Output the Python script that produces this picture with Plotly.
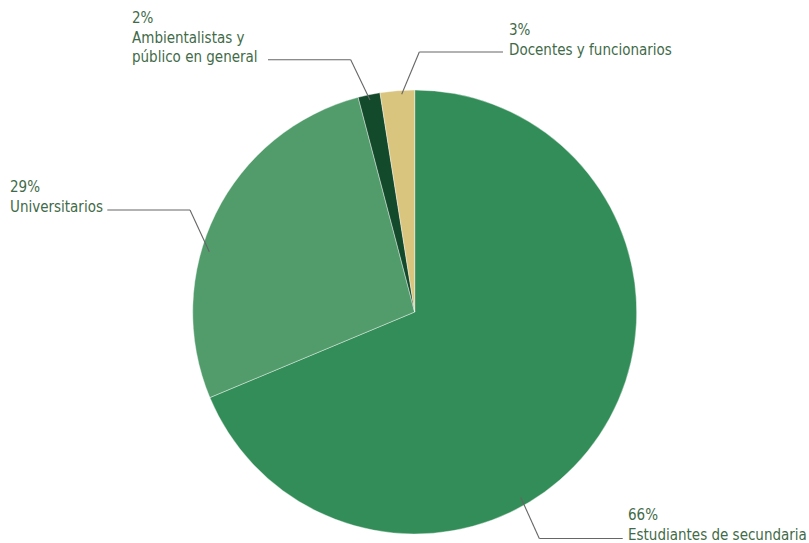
import plotly.graph_objects as go

# ---- data ----
categories = ["Estudiantes de secundaria", "Universitarios",
              "Ambientalistas y público en general", "Docentes y funcionarios"]
values = [68.7, 27.2, 1.6, 2.5]
pct_labels = ["66%", "29%", "2%", "3%"]
colors = ["#338d58", "#529c6c", "#134a2b", "#dac57f"]

W, H = 809, 543
TXT = "#3f6b48"
FONT = "DejaVu Sans Condensed, sans-serif"
FS = 15

def px(x):
    return x / W

def py(y):
    return 1 - y / H

fig = go.Figure(go.Pie(
    labels=categories, values=values, sort=False, direction="clockwise",
    rotation=0, marker=dict(colors=colors, line=dict(color="white", width=0.4)),
    textinfo="none", hoverinfo="label+percent", showlegend=False,
    domain=dict(x=[px(192.7), px(636.7)], y=[py(534), py(90)]),
))

# label blocks: (left x, first baseline, lines)
label_lines = [
    (627, 520, [pct_labels[0], "Estudiantes de secundaria"]),
    (9, 192, [pct_labels[1], "Universitarios"]),
    (131, 23, [pct_labels[2], "Ambientalistas y", "público en general"]),
    (508, 35, [pct_labels[3], "Docentes y funcionarios"]),
]
pitch = 19.5
annotations = []
for x0, b0, lines in label_lines:
    for i, t in enumerate(lines):
        b = b0 + i * pitch
        annotations.append(dict(
            x=px(x0), y=py(b - 4.6), xref="paper", yref="paper",
            xanchor="left", yanchor="middle", showarrow=False, text=t,
            font=dict(family=FONT, size=FS, color=TXT), borderpad=0))

# leader lines (pixel paths)
leaders = [
    [(520.7, 497.3), (539.3, 538.5), (622.7, 538.5)],
    [(209.3, 251.7), (190, 210), (107.3, 210)],
    [(370, 100), (350.7, 59.7), (268, 59.7)],
    [(401.7, 94.3), (419.3, 52), (503, 52)],
]
shapes = []
for pts in leaders:
    for (xa, ya), (xb, yb) in zip(pts[:-1], pts[1:]):
        shapes.append(dict(type="line", xref="paper", yref="paper",
                           x0=px(xa), y0=py(ya), x1=px(xb), y1=py(yb),
                           line=dict(color="#666666", width=1.1)))

fig.update_layout(width=W, height=H, margin=dict(l=0, r=0, t=0, b=0),
                  paper_bgcolor="white", plot_bgcolor="white",
                  annotations=annotations, shapes=shapes)

fig.write_html("out.html", config={"displayModeBar": False},
               post_script="document.body.style.margin='0';document.body.style.overflow='hidden';")
